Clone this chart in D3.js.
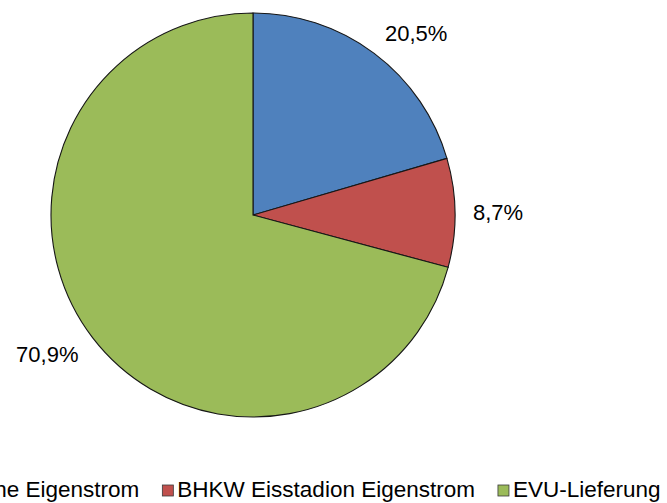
<!DOCTYPE html>
<html>
<head>
<meta charset="utf-8">
<script src="https://cdn.jsdelivr.net/npm/d3@7/dist/d3.min.js"></script>
<style>
  html, body { margin: 0; padding: 0; background: #fff; overflow: hidden; }
  svg { display: block; font-family: "Liberation Sans", Arial, sans-serif; }
</style>
</head>
<body>
<svg id="chart" width="667" height="503"></svg>
<script>
// Anteile am Stromverbrauch (%)
const categories = ["PV-Dachfläche Eigenstrom", "BHKW Eisstadion Eigenstrom", "EVU-Lieferung"];
const shares = [20.5, 8.7, 70.9];
const shareLabels = ["20,5%", "8,7%", "70,9%"];
const colors = ["#4F81BD", "#C0504D", "#9BBB59"];

const W = 667, H = 503;
const cx = 253, cy = 215, radius = 202;
const labelFont = 22, legendFont = 22.5;

const svg = d3.select("#chart");
svg.append("rect").attr("width", W).attr("height", H).attr("fill", "#fff");

const pie = d3.pie().sort(null).value(d => d)(shares);
const arc = d3.arc().innerRadius(0).outerRadius(radius);

const g = svg.append("g").attr("transform", `translate(${cx},${cy})`);

g.selectAll("path.slice")
  .data(pie)
  .join("path")
  .attr("class", "slice")
  .attr("d", arc)
  .attr("fill", (d, i) => colors[i])
  .attr("stroke", "#161616")
  .attr("stroke-width", 1.1);

// Percentage labels outside the slices
const labelR = radius + 18;
const capH = labelFont * 0.716;
g.selectAll("text.pct")
  .data(pie)
  .join("text")
  .attr("class", "pct")
  .attr("font-size", labelFont)
  .attr("fill", "#000")
  .text((d, i) => shareLabels[i])
  .each(function (d) {
    const a = (d.startAngle + d.endAngle) / 2;
    const s = Math.sin(a), c = Math.cos(a);
    const px = s * labelR, py = -c * labelR;
    d3.select(this)
      .attr("text-anchor", s >= 0 ? "start" : "end")
      .attr("x", px)
      .attr("y", py - c * capH / 2 + capH / 2);
  });

// Legend, laid out in one row below the pie
const sq = 11, sqGap = 4, itemGap = 23, legendBase = 497;
const legend = svg.append("g");
const items = legend.selectAll("g.item")
  .data(categories)
  .join("g")
  .attr("class", "item");

items.append("rect")
  .attr("width", sq).attr("height", sq)
  .attr("y", legendBase - sq - 1)
  .attr("fill", (d, i) => colors[i])
  .attr("stroke", "#3a3a3a")
  .attr("stroke-width", 0.8);

items.append("text")
  .attr("x", sq + sqGap)
  .attr("y", legendBase)
  .attr("font-size", legendFont)
  .attr("fill", "#000")
  .text(d => d);

let xPos = 0;
items.each(function () {
  const item = d3.select(this);
  item.attr("transform", `translate(${xPos},0)`);
  const tw = item.select("text").node().getComputedTextLength();
  xPos += sq + sqGap + tw + itemGap;
});
const legendWidth = xPos - itemGap;
const legendCx = cx + 5;
legend.attr("transform", `translate(${legendCx - legendWidth / 2},0)`);
</script>
</body>
</html>
